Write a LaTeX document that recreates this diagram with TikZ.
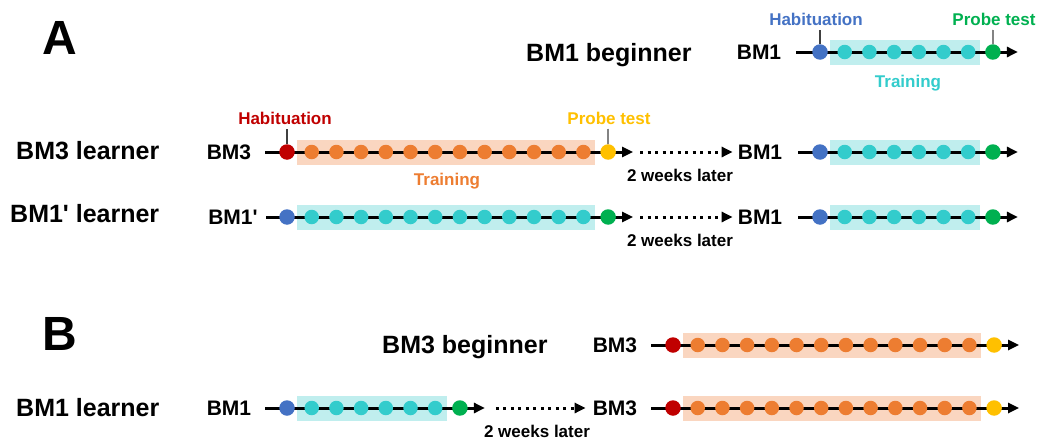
\documentclass[tikz,border=0pt]{standalone}
\usepackage{fontspec}
\setmainfont{Liberation Sans}
\newfontfamily\plainapos{Liberation Sans}
\usetikzlibrary{arrows.meta}
\definecolor{cHab}{HTML}{4472C4}
\definecolor{cCyan}{HTML}{33CCCC}
\definecolor{cCyanBox}{RGB}{192,238,238}
\definecolor{cGreen}{HTML}{00B050}
\definecolor{cRed}{HTML}{C00000}
\definecolor{cOrange}{HTML}{ED7D31}
\definecolor{cOrangeBox}{RGB}{250,214,192}
\definecolor{cYellow}{HTML}{FFC000}
\tikzset{
  bigdot/.style={circle,minimum size=15.5pt,inner sep=0pt},
  smalldot/.style={circle,minimum size=14.5pt,inner sep=0pt},
  tlline/.style={line width=3pt,-{Triangle[length=11pt,width=10pt]}},
  dotarrow/.style={line width=3pt,dash pattern=on 3pt off 4.5pt,-{Triangle[length=11pt,width=10pt]}},
  tick/.style={line width=1.3pt,black!75},
  biglbl/.style={font=\bfseries\fontsize{48}{50}\selectfont,inner sep=0pt},
  grplbl/.style={font=\bfseries\fontsize{25}{28}\selectfont,inner sep=0pt,anchor=base west},
  seqlbl/.style={font=\bfseries\fontsize{21}{24}\selectfont,inner sep=0pt},
  phaselbl/.style={font=\bfseries\fontsize{17}{20}\selectfont,inner sep=0pt,anchor=base},
}
% #1 name, #2 y, #3 start x, #4 habituation x, #5 number of dots,
% #6 habituation colour, #7 dot colour, #8 box colour, #9 end colour
\newcommand\mytimeline[9]{%
  \pgfmathsetmacro\tlLast{#4+24.7*#5}%
  \pgfmathsetmacro\tlEnd{\tlLast+24.7}%
  \pgfmathsetmacro\tlArrow{\tlEnd+25}%
  \fill[#8] (#4+10,#2-12.5) rectangle (\tlLast+11.5,#2+12.5);
  \coordinate (#1s) at (#3,#2);
  \coordinate (#1a) at (\tlArrow,#2);
  \draw[tlline] (#1s) -- (#1a);
  \node[bigdot,fill=#6] (#1h) at (#4,#2) {};
  \foreach \k in {1,...,#5}{\node[smalldot,fill=#7] (#1d\k) at ({#4+24.7*\k},#2) {};}
  \node[bigdot,fill=#9] (#1e) at (\tlEnd,#2) {};
}
\begin{document}
\begin{tikzpicture}[x=1pt,y=-1pt]
\useasboundingbox (0,0) rectangle (1039,439);

% ---------- A ----------
\node[biglbl,anchor=base] (lA) at (60,54) {A};
\node[grplbl] (g0) at (526,61) {BM1 beginner};

% row 0 : BM1 beginner
\node[seqlbl] (r0l) at (759,52) {BM1};
\mytimeline{r0}{52}{796}{820}{6}{cHab}{cCyan}{cCyanBox}{cGreen}
\node[phaselbl,text=cHab] (r0habl) at (816,25) {Habituation};
\node[phaselbl,text=cGreen] (r0prl) at (994,25) {Probe test};
\node[phaselbl,text=cCyan] (r0trl) at (908,87) {Training};
\coordinate (r0ht) at (820,30);
\coordinate (r0pt) at (993,30);
\draw[tick] (r0h) -- (r0ht);
\draw[tick] (r0e) -- (r0pt);

% row 1 : BM3 learner
\node[grplbl] (g1) at (16,159) {BM3 learner};
\node[seqlbl] (r1l) at (229,152) {BM3};
\mytimeline{r1a}{152}{265}{287}{12}{cRed}{cOrange}{cOrangeBox}{cYellow}
\node[phaselbl,text=cRed] (r1habl) at (285,124) {Habituation};
\node[phaselbl,text=cYellow] (r1prl) at (609,124) {Probe test};
\node[phaselbl,text=cOrange] (r1trl) at (447,185) {Training};
\coordinate (r1ht) at (287,129);
\coordinate (r1pt) at (608,129);
\draw[tick] (r1ah) -- (r1ht);
\draw[tick] (r1ae) -- (r1pt);
\node[seqlbl] (r1m) at (760,152) {BM1};
\draw[dotarrow,shorten <=7pt,shorten >=5pt] (r1aa) -- (r1m.west);
\node[phaselbl,text=black] (r1w) at (680,181) {2 weeks later};
\mytimeline{r1b}{152}{798}{820}{6}{cHab}{cCyan}{cCyanBox}{cGreen}

% row 2 : BM1' learner
\node[grplbl] (g2) at (10,222) {BM1{\plainapos '} learner};
\node[seqlbl] (r2l) at (233,217) {BM1{\plainapos '}};
\mytimeline{r2a}{217}{266}{287}{12}{cHab}{cCyan}{cCyanBox}{cGreen}
\node[seqlbl] (r2m) at (760,217) {BM1};
\draw[dotarrow,shorten <=7pt,shorten >=5pt] (r2aa) -- (r2m.west);
\node[phaselbl,text=black] (r2w) at (680,246) {2 weeks later};
\mytimeline{r2b}{217}{798}{820}{6}{cHab}{cCyan}{cCyanBox}{cGreen}

% ---------- B ----------
\node[biglbl,anchor=base] (lB) at (60,350) {B};
\node[grplbl] (g3) at (382,353) {BM3 beginner};
\node[seqlbl] (r3l) at (615,345) {BM3};
\mytimeline{r3}{345}{651}{673}{12}{cRed}{cOrange}{cOrangeBox}{cYellow}

\node[grplbl] (g4) at (16,416) {BM1 learner};
\node[seqlbl] (r4l) at (229,408) {BM1};
\mytimeline{r4a}{408}{265}{287}{6}{cHab}{cCyan}{cCyanBox}{cGreen}
\node[seqlbl] (r4m) at (615,408) {BM3};
\draw[dotarrow,shorten <=11pt,shorten >=7pt] (r4aa) -- (r4m.west);
\node[phaselbl,text=black] (r4w) at (537,437) {2 weeks later};
\mytimeline{r4b}{408}{651}{673}{12}{cRed}{cOrange}{cOrangeBox}{cYellow}
\end{tikzpicture}
\end{document}
